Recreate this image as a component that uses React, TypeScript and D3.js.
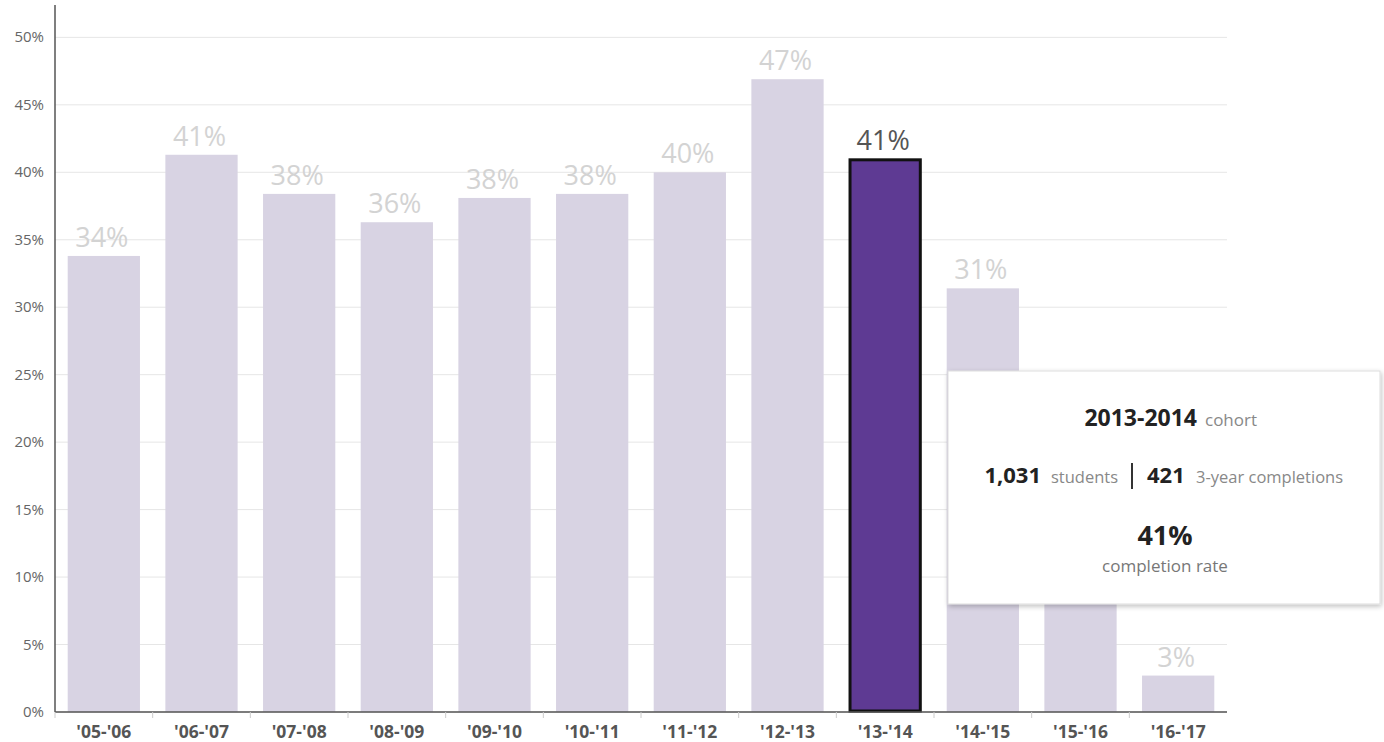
import React from "react";
import * as d3 from "d3";

const categories = ["'05-'06", "'06-'07", "'07-'08", "'08-'09", "'09-'10", "'10-'11", "'11-'12", "'12-'13", "'13-'14", "'14-'15", "'15-'16", "'16-'17"];
const values = [33.8, 41.3, 38.4, 36.3, 38.1, 38.4, 40.0, 46.9, 41.0, 31.4, 18.0, 2.7];
const valueLabels = ["34%", "41%", "38%", "36%", "38%", "38%", "40%", "47%", "41%", "31%", "18%", "3%"];
const yTicks = [0, 5, 10, 15, 20, 25, 30, 35, 40, 45, 50];
const highlightIndex = 8;

const W = 1384, H = 742;
const FONT = "'Open Sans', 'Noto Sans', sans-serif";

export default function App() {
  const left = 55, right = 1227, top = 5, bottom = 712;
  const y = d3.scaleLinear().domain([0, 52.4]).range([bottom, top]);
  const x = d3.scaleBand<string>().domain(categories).range([left, right]).paddingInner(0.26).paddingOuter(0.13);
  const step = x.step();

  const tipX = 948, tipY = 371, tipW = 432, tipH = 233;
  const cx = 1165;
  const sepX = 1132;

  // labels that sit entirely under the tooltip are hidden by it
  const hiddenByTip = (i: number) => {
    const lx = x(categories[i])! + x.bandwidth() / 2;
    const ly = y(values[i]) - 9;
    return lx > tipX && lx < tipX + tipW && ly - 22 > tipY && ly < tipY + tipH;
  };

  return (
    <svg width={W} height={H} style={{ position: "absolute", left: 0, top: 0, display: "block", background: "#fff" }} fontFamily={FONT}>
      <defs>
        <filter id="shadow" x="-10%" y="-10%" width="120%" height="130%">
          <feDropShadow dx="1" dy="2" stdDeviation="2.5" floodColor="#000" floodOpacity="0.25" />
        </filter>
      </defs>
      {yTicks.map((t) => (
        <line key={"g" + t} x1={left} x2={right} y1={y(t)} y2={y(t)} stroke="#e6e6e6" strokeWidth={1} />
      ))}
      {yTicks.map((t) => (
        <text key={"yt" + t} x={44} y={y(t) + 5} textAnchor="end" fontSize={15} fill="#666">{t + "%"}</text>
      ))}
      {values.map((v, i) => {
        const hl = i === highlightIndex;
        return (
          <rect key={"b" + i} x={x(categories[i])! + (hl ? 1 : 0)} width={x.bandwidth() - (hl ? 2 : 0)}
            y={y(v) + (hl ? 1 : 0)} height={bottom - y(v) - (hl ? 2 : 0)}
            fill={hl ? "#5e3a93" : "#d8d3e3"} stroke={hl ? "#111" : "none"} strokeWidth={hl ? 3 : 0} />
        );
      })}
      {values.map((v, i) => {
        const hl = i === highlightIndex;
        if (hiddenByTip(i)) return null;
        return (
          <text key={"vl" + i} x={x(categories[i])! + x.bandwidth() / 2 - 2} y={y(v) - 9} textAnchor="middle"
            fontSize={27} fill={hl ? "#555" : "#d3d3d3"}>{valueLabels[i]}</text>
        );
      })}
      <line x1={left} x2={left} y1={top} y2={bottom} stroke="#555" strokeWidth={1.5} />
      <line x1={left} x2={right} y1={bottom} y2={bottom} stroke="#555" strokeWidth={1.5} />
      {categories.map((c, i) => (
        <line key={"xt" + i} x1={left + step * i} x2={left + step * i} y1={bottom} y2={bottom + 6} stroke="#ccc" strokeWidth={1} />
      ))}
      {categories.map((c) => (
        <text key={"xl" + c} x={x(c)! + x.bandwidth() / 2} y={738} textAnchor="middle" fontSize={17.5} fontWeight="bold" fill="#555">{c}</text>
      ))}
      <rect x={tipX} y={tipY} width={tipW} height={tipH} fill="#fff" stroke="#ddd" strokeWidth={1} filter="url(#shadow)" />
      <text x={1197} y={426} textAnchor="end" fontSize={23} fontWeight="bold" fill="#222">2013-2014</text>
      <text x={1205} y={426} textAnchor="start" fontSize={17} fill="#888">cohort</text>
      <text x={1041} y={483} textAnchor="end" fontSize={22} fontWeight="bold" fill="#222">1,031</text>
      <text x={1051} y={483} textAnchor="start" fontSize={16.5} fill="#888">students</text>
      <line x1={sepX} x2={sepX} y1={463} y2={489} stroke="#333" strokeWidth={2} />
      <text x={1147} y={483} textAnchor="start" fontSize={22} fontWeight="bold" fill="#222">421</text>
      <text x={1196} y={483} textAnchor="start" fontSize={16.5} fill="#888">3-year completions</text>
      <text x={cx} y={545} textAnchor="middle" fontSize={27} fontWeight="bold" fill="#222">41%</text>
      <text x={cx} y={572} textAnchor="middle" fontSize={17} fill="#777">completion rate</text>
    </svg>
  );
}
